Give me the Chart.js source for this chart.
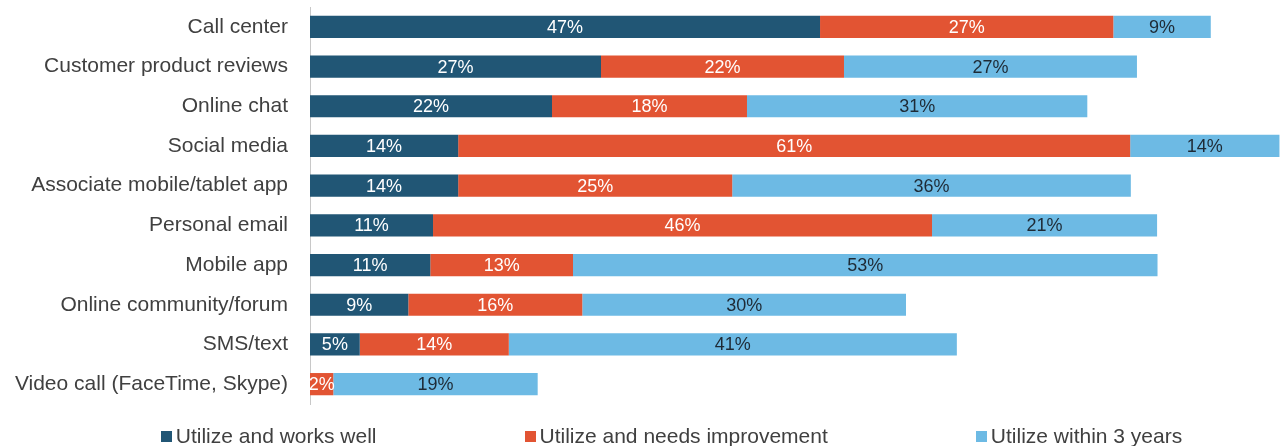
<!DOCTYPE html>
<html lang="en">
<head>
    <meta charset="UTF-8">
    <title>Channel utilization</title>
    <script src="https://cdn.jsdelivr.net/npm/chart.js"></script>
    <style>
        body { margin: 0; background: #fff; font-family: 'Liberation Sans', Arial, sans-serif; }
        .wrap { position: relative; width: 1281px; height: 446px; }
        #legend {
            position: absolute; left: 0; top: 424px; width: 1281px; box-sizing: border-box;
            padding-left: 62px; display: flex; justify-content: center; gap: 148px;
            font-size: 21px; line-height: 24px; color: #404040;
        }
        #legend .item { display: flex; align-items: center; white-space: nowrap; }
        #legend .box { width: 11px; height: 11px; margin-right: 4px; }
    </style>
</head>
<body>
    <div class="wrap">
        <canvas id="channelChart" width="1281" height="446"></canvas>
        <div id="legend"></div>
    </div>

    <script>
        const categories = [
            'Call center',
            'Customer product reviews',
            'Online chat',
            'Social media',
            'Associate mobile/tablet app',
            'Personal email',
            'Mobile app',
            'Online community/forum',
            'SMS/text',
            'Video call (FaceTime, Skype)'
        ];
        const seriesNames = ['Utilize and works well', 'Utilize and needs improvement', 'Utilize within 3 years'];
        const worksWell = [46.64, 26.61, 22.13, 13.55, 13.55, 11.25, 11.0, 8.99, 4.55, 0];
        const needsImprovement = [26.82, 22.22, 17.83, 61.45, 25.06, 45.63, 13.05, 15.91, 13.63, 2.13];
        const withinThreeYears = [8.91, 26.79, 31.12, 13.65, 36.45, 20.58, 53.45, 29.6, 40.97, 18.69];

        const colors = ['#215675', '#e25433', '#6dbae4'];
        const labelColors = ['#ffffff', '#ffffff', '#1e2a35'];

        // percent labels in the middle of each segment
        const segmentLabels = {
            id: 'segmentLabels',
            afterDatasetsDraw(chart) {
                const ctx = chart.ctx;
                ctx.save();
                ctx.font = '18px "Liberation Sans", Arial, sans-serif';
                ctx.textAlign = 'center';
                ctx.textBaseline = 'middle';
                chart.data.datasets.forEach((ds, i) => {
                    const meta = chart.getDatasetMeta(i);
                    meta.data.forEach((bar, j) => {
                        const v = ds.data[j];
                        if (!v) return;
                        const c = bar.getCenterPoint();
                        ctx.fillStyle = labelColors[i];
                        ctx.fillText(Math.round(v) + '%', c.x, c.y + 1);
                    });
                });
                ctx.restore();
            }
        };

        const ctx = document.getElementById('channelChart').getContext('2d');
        new Chart(ctx, {
            type: 'bar',
            data: {
                labels: categories,
                datasets: [
                    { label: seriesNames[0], data: worksWell, backgroundColor: colors[0] },
                    { label: seriesNames[1], data: needsImprovement, backgroundColor: colors[1] },
                    { label: seriesNames[2], data: withinThreeYears, backgroundColor: colors[2] }
                ]
            },
            options: {
                indexAxis: 'y',
                responsive: false,
                animation: false,
                barPercentage: 0.56,
                categoryPercentage: 1,
                layout: { padding: { top: 7, right: 1, bottom: 42, left: 0 } },
                plugins: {
                    legend: { display: false },
                    tooltip: { enabled: false }
                },
                scales: {
                    x: {
                        stacked: true,
                        display: false,
                        min: 0,
                        max: 88.7
                    },
                    y: {
                        stacked: true,
                        grid: { display: false, drawTicks: false },
                        border: { display: true, color: '#c8c8c8', width: 1 },
                        ticks: {
                            padding: 22,
                            color: '#404040',
                            font: { family: "'Liberation Sans', Arial, sans-serif", size: 21 }
                        },
                        afterFit(scale) {
                            scale.width = 310;
                            scale.paddingTop = 0;
                            scale.paddingBottom = 0;
                        }
                    }
                }
            },
            plugins: [segmentLabels]
        });

        // legend row under the chart
        const legend = document.getElementById('legend');
        seriesNames.forEach((name, i) => {
            const item = document.createElement('span');
            item.className = 'item';
            item.innerHTML = '<span class="box" style="background:' + colors[i] + '"></span>' + name;
            legend.appendChild(item);
        });
    </script>
</body>
</html>
